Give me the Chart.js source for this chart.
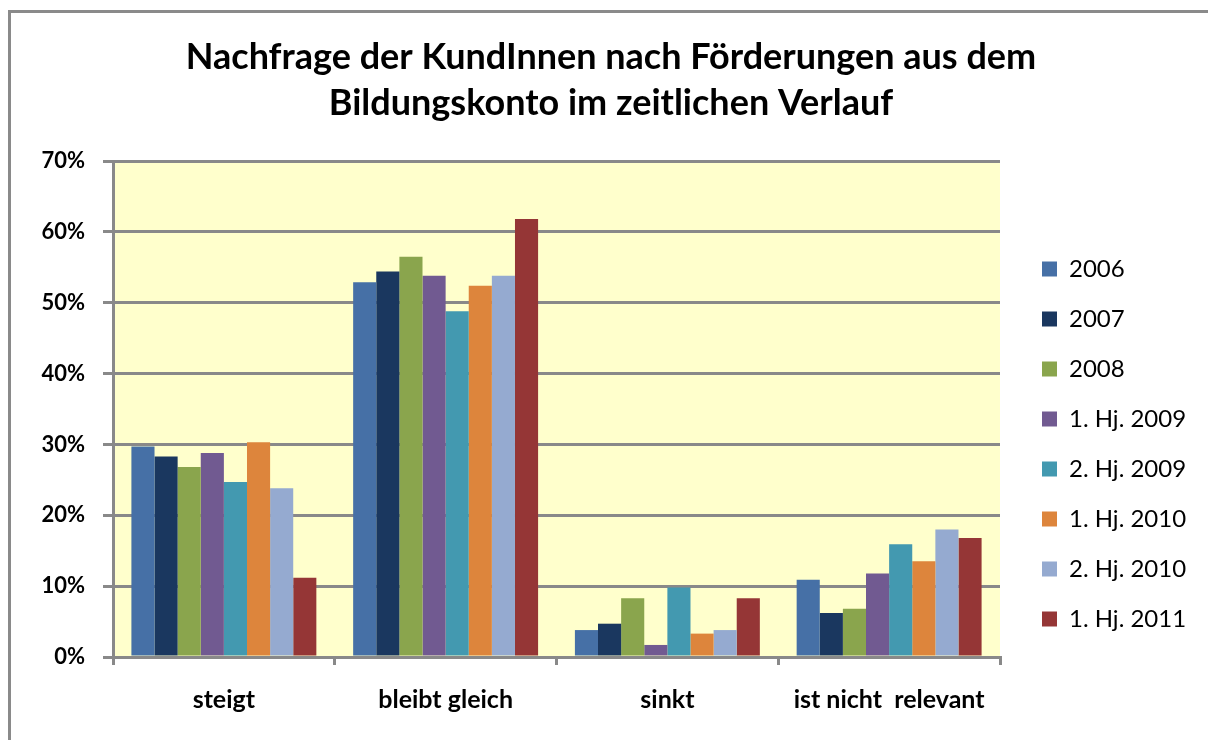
<!DOCTYPE html>
<html>
<head>
<meta charset="utf-8">
<script src="https://cdn.jsdelivr.net/npm/chart.js@4.4.1/dist/chart.umd.min.js"></script>
<style>
  html, body { margin: 0; padding: 0; background: #ffffff; overflow: hidden; }
  #wrap { position: relative; width: 1208px; height: 740px; overflow: hidden; }
  #frame { position: absolute; left: 8px; top: 10px; width: 1250px; height: 780px;
           border-left: 3px solid #8a8a8a; border-top: 3px solid #8a8a8a; box-sizing: border-box; }
  canvas { position: absolute; left: 0; top: 0; }
</style>
</head>
<body>
<div id="wrap">
  <div id="frame"></div>
  <canvas id="c" width="1208" height="740"></canvas>
</div>
<script>
const categories = ['steigt', 'bleibt gleich', 'sinkt', 'ist nicht  relevant'];
const seriesNames = ['2006', '2007', '2008', '1. Hj. 2009', '2. Hj. 2009', '1. Hj. 2010', '2. Hj. 2010', '1. Hj. 2011'];
const v2006   = [29.7, 52.9, 3.8, 10.9];
const v2007   = [28.3, 54.4, 4.7, 6.2];
const v2008   = [26.8, 56.5, 8.3, 6.8];
const vH1_2009 = [28.8, 53.8, 1.7, 11.8];
const vH2_2009 = [24.7, 48.8, 9.8, 15.9];
const vH1_2010 = [30.3, 52.4, 3.3, 13.5];
const vH2_2010 = [23.8, 53.8, 3.8, 18.0];
const vH1_2011 = [11.2, 61.8, 8.3, 16.8];
const seriesValues = [v2006, v2007, v2008, vH1_2009, vH2_2009, vH1_2010, vH2_2010, vH1_2011];
const seriesColors = ['#4670a6', '#1a375f', '#8aa54d', '#715a91', '#4399b0', '#dd853c', '#95aad0', '#953636'];
const yTicks = [0, 10, 20, 30, 40, 50, 60, 70];
const titleLines = ['Nachfrage der KundInnen nach Förderungen aus dem', 'Bildungskonto im zeitlichen Verlauf'];

const GRID = '#898989';

const plotBg = {
  id: 'plotBg',
  beforeDraw(chart) {
    const {ctx, chartArea: a} = chart;
    ctx.save();
    ctx.fillStyle = '#ffffcc';
    ctx.fillRect(a.left, a.top, a.right - a.left, a.bottom - a.top);
    ctx.restore();
  }
};

new Chart(document.getElementById('c'), {
  type: 'bar',
  data: {
    labels: categories,
    datasets: seriesNames.map((n, i) => ({
      label: n,
      data: seriesValues[i],
      backgroundColor: seriesColors[i],
      borderWidth: 0,
      yAxisID: 'y'
    }))
  },
  options: {
    responsive: false,
    animation: false,
    devicePixelRatio: 1,
    datasets: { bar: { categoryPercentage: 0.834, barPercentage: 1.0 } },
    layout: { padding: { left: 26, right: 12, top: 0, bottom: 5 } },
    plugins: {
      title: {
        display: true,
        text: titleLines,
        color: '#000000',
        font: { family: 'Lato', size: 36, weight: 'bold', lineHeight: 46 / 36 },
        padding: { top: 34, bottom: 35 }
      },
      legend: {
        display: true,
        position: 'right',
        align: 'end',
        fullSize: false,
        maxWidth: 180,
        labels: {
          boxWidth: 15,
          boxHeight: 15,
          padding: 26,
          color: '#000000',
          font: { family: 'Lato', size: 24 }
        }
      },
      tooltip: { enabled: false }
    },
    scales: {
      x: {
        grid: { offset: true, drawOnChartArea: false, drawTicks: true, tickLength: 8, color: GRID, lineWidth: 3 },
        border: { display: true, color: GRID, width: 3 },
        ticks: { color: '#000000', padding: 20, font: { family: 'Lato', size: 25, weight: 'bold' } }
      },
      y: {
        min: 0, max: 70,
        afterBuildTicks(s) { s.ticks = yTicks.map(v => ({ value: v })); },
        afterFit(s) { s.width = 87; },
        grid: { color: GRID, lineWidth: 3, tickLength: 10 },
        border: { display: true, color: GRID, width: 3 },
        ticks: { color: '#000000', padding: 18, font: { family: 'Lato', size: 22, weight: 'bold' },
                 callback: v => v + '%' }
      },
      y2: {
        position: 'right',
        display: true,
        min: 0, max: 70,
        afterFit(s) { s.width = 16; },
        grid: { display: false },
        border: { display: false },
        ticks: { display: false }
      }
    }
  },
  plugins: [plotBg]
});
</script>
</body>
</html>
